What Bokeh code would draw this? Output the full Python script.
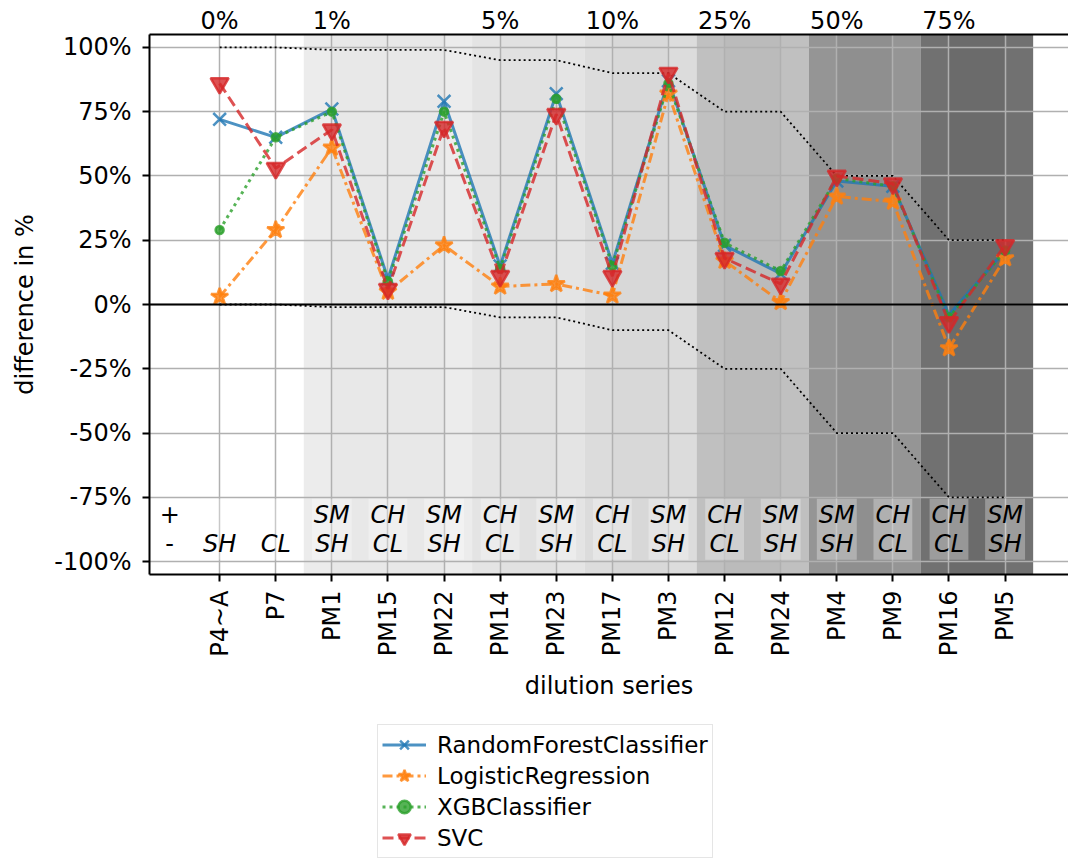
import numpy as np
from bokeh.plotting import figure
from bokeh.layouts import column
from bokeh.models import (Range1d, FixedTicker, LinearAxis, PrintfTickFormatter,
                          Span, Legend, LegendItem, ColumnDataSource)
from bokeh.core.properties import value
from bokeh.embed import file_html
from bokeh.resources import INLINE

# ---- data -------------------------------------------------------------
samples = ["P4~A", "P7", "PM1", "PM15", "PM22", "PM14", "PM23", "PM17",
           "PM3", "PM12", "PM24", "PM4", "PM9", "PM16", "PM5"]
dilution = [0, 0, 1, 1, 1, 5, 5, 10, 10, 25, 25, 50, 50, 75, 75]
plus_component = ["", "", "SM", "CH", "SM", "CH", "SM", "CH", "SM",
                  "CH", "SM", "SM", "CH", "CH", "SM"]
minus_component = ["SH", "CL", "SH", "CL", "SH", "CL", "SH", "CL", "SH",
                   "CL", "SH", "SH", "CL", "CL", "SH"]

random_forest = [72, 65, 76, 10, 79, 15, 82, 16, 87, 23, 12, 48, 46, -4, 21]
logistic_reg = [3, 29, 61, 5, 23, 7, 8, 3.5, 82, 17, 1, 42, 40, -17, 18]
xgboost = [29, 65, 75, 9, 75, 14, 80, 15, 86, 24, 13, 49, 46, -5, 21]
svc = [86, 53, 68, 6, 69, 11, 74, 11, 90, 18, 8, 50, 47, -7, 23]

# ---- styling ----------------------------------------------------------
FONT = "DejaVu Sans"
FS = "24px"
band_shades = {1: ("#ececec", "#e8e8e8"), 5: ("#e4e4e4", "#e1e1e1"),
               10: ("#dcdcdc", "#d8d8d8"), 25: ("#c0c0c0", "#bbbbbb"),
               50: ("#959595", "#8f8f8f"), 75: ("#717171", "#6b6b6b")}

x = np.arange(len(samples))
y_lo, y_hi = -105, 105
x_lo, x_hi = -1.25, 15.13

p = figure(frame_width=919, frame_height=540, x_range=Range1d(x_lo, x_hi),
           y_range=Range1d(y_lo, y_hi), output_backend="svg",
           toolbar_location=None, min_border_left=149, min_border_right=0,
           min_border_top=34, min_border_bottom=150)
p.outline_line_color = None
p.background_fill_color = "white"
p.border_fill_color = "white"

# ---- dilution bands -----------------------------------------------------
levels = sorted(set(dilution))
outer_l, outer_r, outer_c, inner_l, inner_r, inner_c = [], [], [], [], [], []
for d in levels:
    if d == 0:
        continue
    idx = [i for i, v in enumerate(dilution) if v == d]
    outer_l.append(min(idx) - 0.5)
    outer_r.append(max(idx) + 0.5)
    outer_c.append(band_shades[d][0])
    inner_l.append(min(idx))
    inner_r.append(max(idx))
    inner_c.append(band_shades[d][1])
p.quad(left=outer_l, right=outer_r, bottom=y_lo, top=y_hi, fill_color=outer_c,
       line_color=None, level="image")
p.quad(left=inner_l, right=inner_r, bottom=y_lo, top=y_hi, fill_color=inner_c,
       line_color=None, level="image")

# ---- axes -------------------------------------------------------------
xt = FixedTicker(ticks=list(x))
p.xaxis.ticker = xt
p.xgrid.ticker = xt
p.xaxis.major_label_overrides = {int(i): s for i, s in zip(x, samples)}
p.xaxis.major_label_orientation = np.pi / 2
p.xaxis.axis_label = "dilution series"
p.xaxis.major_label_standoff = 9

yt = FixedTicker(ticks=[-100, -75, -50, -25, 0, 25, 50, 75, 100])
p.yaxis.ticker = yt
p.ygrid.ticker = yt
p.yaxis.formatter = PrintfTickFormatter(format="%d%%")
p.yaxis.axis_label = "difference in %"
p.yaxis.major_label_standoff = 11

for ax in (p.xaxis, p.yaxis):
    ax.axis_line_width = 2
    ax.axis_line_color = "black"
    ax.major_tick_out = 7
    ax.major_tick_in = 0
    ax.major_tick_line_width = 2
    ax.minor_tick_line_color = None
    ax.major_label_text_font = FONT
    ax.major_label_text_font_size = FS
    ax.major_label_text_color = "black"
    ax.axis_label_text_font = FONT
    ax.axis_label_text_font_size = FS
    ax.axis_label_text_font_style = "normal"
    ax.axis_label_text_color = "black"
p.xaxis.axis_label_standoff = 12
p.yaxis.axis_label_standoff = 12

# top axis: dilution level of each group
first_idx = [dilution.index(d) for d in levels]
top_axis = LinearAxis(ticker=FixedTicker(ticks=first_idx),
                      major_label_overrides={i: f"{dilution[i]}%" for i in first_idx},
                      major_tick_out=0, major_tick_in=0,
                      minor_tick_line_color=None, axis_line_width=2,
                      axis_line_color="black", major_label_standoff=0,
                      major_label_text_font=FONT, major_label_text_font_size=FS,
                      major_label_text_color="black")
p.add_layout(top_axis, "above")

for g in (p.xgrid, p.ygrid):
    g.grid_line_color = "#b0b0b0"
    g.grid_line_width = 1.5

# ---- bounds of possible difference ------------------------------------
upper = [100 - d for d in dilution]
lower = [-d for d in dilution]
p.line(x, upper, line_color="black", line_width=1.8, line_dash="2 3")
p.line(x, lower, line_color="black", line_width=1.8, line_dash="2 3")

p.add_layout(Span(location=0, dimension="width", line_color="black",
                  line_width=2))

# ---- component annotations ----------------------------------------------
ann_y = -87.4
ann_text = ["\n".join([a if a else " ", b]) for a, b in zip(plus_component, minus_component)]
p.text(x=x, y=[ann_y] * len(x), text=ann_text, text_font=value(FONT),
       text_font_style="italic", text_font_size=FS, text_align="center",
       text_baseline="middle", text_line_height=1.03, text_color="black",
       background_fill_color="white", background_fill_alpha=0.3, padding=2)
p.text(x=[x_lo + 0.36], y=[ann_y], text=["+\n-"], text_font=value(FONT),
       text_font_size=FS, text_align="center", text_baseline="middle",
       text_line_height=1.03, text_color="black")

# ---- model series -------------------------------------------------------
series = [
    ("RandomForestClassifier", random_forest, "#1f77b4", "solid", "x", 18),
    ("LogisticRegression", logistic_reg, "#ff7f0e", "10 4 3 4", "star", 18),
    ("XGBClassifier", xgboost, "#2ca02c", "3 4", "circle", 8),
    ("SVC", svc, "#d62728", "11 5", "inverted_triangle", 18),
]


def add_series(fig, xs, ys, color, dash, marker, size):
    src = ColumnDataSource(dict(x=xs, y=ys))
    rl = fig.line("x", "y", source=src, line_color=color, line_width=3,
                  line_dash=dash, line_alpha=0.8)
    rm = fig.scatter("x", "y", source=src, marker=marker, size=size,
                     line_color=color, fill_color=color, line_width=2.5,
                     alpha=0.8)
    return [rl, rm]


for name, vals, color, dash, marker, size in series:
    add_series(p, x, vals, color, dash, marker, size)

# ---- legend strip underneath the chart ----------------------------------
# the key repeats each series with its styling; its view window sits far
# away from the data so only the legend swatches show
key = figure(width=1068, height=134, x_range=Range1d(x_lo, x_hi),
             y_range=Range1d(1000, 1001), output_backend="svg",
             toolbar_location=None, x_axis_location=None,
             y_axis_location=None, min_border=0)
key.outline_line_color = None
key.grid.visible = False
key.background_fill_color = "white"
key.border_fill_color = "white"

items = []
for name, vals, color, dash, marker, size in series:
    rs = add_series(key, x, vals, color, dash, marker, size)
    items.append(LegendItem(label=name, renderers=rs))

legend = Legend(items=items, location=(228, 0), margin=0,
                label_text_font=FONT, label_text_font_size="23px",
                label_text_color="black",
                glyph_width=44, glyph_height=31, label_height=24,
                spacing=0, padding=4, label_standoff=11,
                border_line_color="#cccccc", border_line_width=1.5,
                background_fill_color="white", background_fill_alpha=1)
key.add_layout(legend)

layout = column(p, key, spacing=0)
open("out.html", "w").write(file_html(layout, INLINE))
